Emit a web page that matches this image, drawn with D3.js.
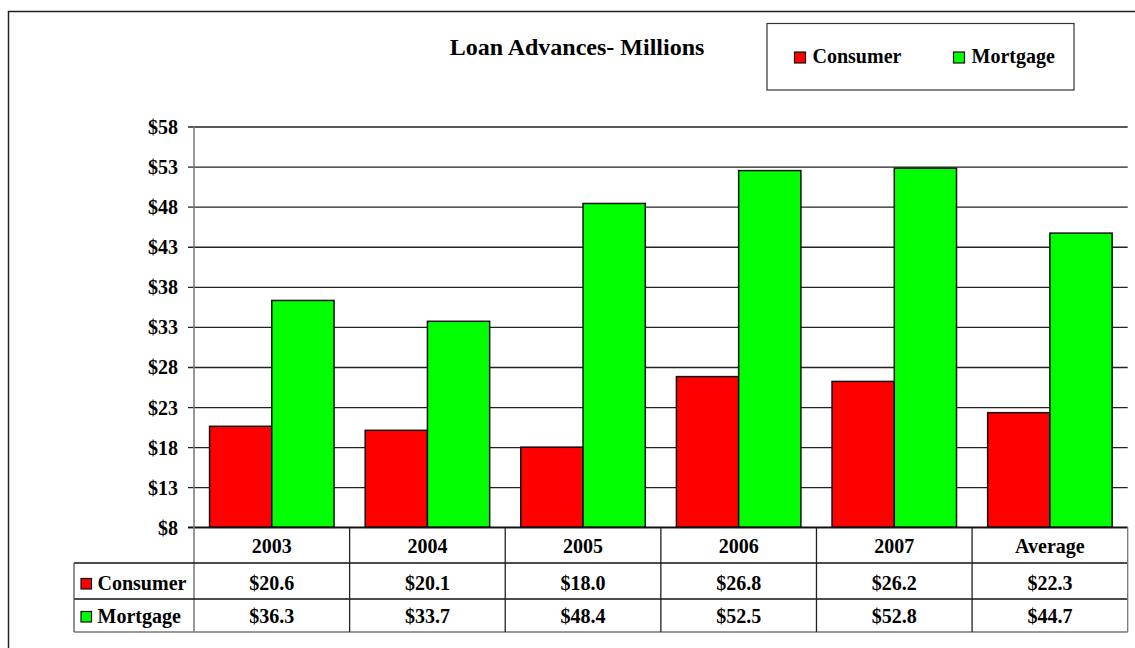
<!DOCTYPE html>
<html>
<head>
<meta charset="utf-8">
<script src="https://cdn.jsdelivr.net/npm/d3@7"></script>
<style>
  body { margin: 0; background: #fff; }
  text { font-family: "Liberation Serif", "Times New Roman", serif; font-weight: bold; fill: #000; }
</style>
</head>
<body>
<div id="chart"></div>
<script>
// Loan advances chart with data table underneath

const categories = ['2003', '2004', '2005', '2006', '2007', 'Average'];
const seriesNames = ['Consumer', 'Mortgage'];
const consumer = [20.6, 20.1, 18.0, 26.8, 26.2, 22.3];
const mortgage = [36.3, 33.7, 48.4, 52.5, 52.8, 44.7];
const yTicks = [8, 13, 18, 23, 28, 33, 38, 43, 48, 53, 58];

const W = 1135, H = 648;
const plot = { left: 194, right: 1127.7, top: 126.5, bottom: 527.3 };
const rowH = [35.7, 36, 33]; // header row, consumer row, mortgage row
const colors = { Consumer: '#ff0000', Mortgage: '#00ff00' };
const values = { Consumer: consumer, Mortgage: mortgage };

const svg = d3.select('#chart')
  .append('svg')
  .attr('width', W)
  .attr('height', H);

// outer frame (right and bottom edges fall outside the picture)
svg.append('rect')
  .attr('x', 8.5).attr('y', 11.5)
  .attr('width', W + 10).attr('height', H + 10)
  .attr('fill', 'none')
  .attr('stroke', '#222')
  .attr('stroke-width', 1.5);

// scales
const x = d3.scaleBand()
  .domain(categories)
  .range([plot.left, plot.right])
  .paddingInner(0.2)
  .paddingOuter(0.1);

const xInner = d3.scaleBand()
  .domain(seriesNames)
  .range([0, x.bandwidth()]);

const y = d3.scaleLinear()
  .domain([8, 58])
  .range([plot.bottom, plot.top]);

// gridlines + left ticks
const yAxis = d3.axisLeft(y)
  .tickValues(yTicks)
  .tickSize(-(plot.right - plot.left))
  .tickSizeOuter(0)
  .tickFormat(d => '$' + d);

const gy = svg.append('g')
  .attr('transform', `translate(${plot.left},0)`)
  .call(yAxis);
gy.select('.domain').remove();
gy.selectAll('.tick line')
  .attr('x1', -6)
  .attr('stroke', '#222')
  .attr('stroke-width', 1.3);
gy.selectAll('.tick text')
  .attr('x', -16)
  .attr('dy', '0.35em')
  .style('font-size', '20px')
  .style('font-family', '"Liberation Serif", serif')
  .style('font-weight', 'bold');

// bars
const groups = svg.append('g')
  .selectAll('g')
  .data(categories)
  .join('g')
  .attr('transform', d => `translate(${x(d)},0)`);

groups.selectAll('rect')
  .data((d, i) => seriesNames.map(s => ({ s, v: values[s][i] })))
  .join('rect')
  .attr('x', d => xInner(d.s))
  .attr('y', d => y(d.v))
  .attr('width', xInner.bandwidth())
  .attr('height', d => y(8) - y(d.v))
  .attr('fill', d => colors[d.s])
  .attr('stroke', '#111')
  .attr('stroke-width', 1.5);

// x axis line (top of the table)
svg.append('line')
  .attr('x1', plot.left - 6).attr('x2', plot.right)
  .attr('y1', plot.bottom).attr('y2', plot.bottom)
  .attr('stroke', '#111').attr('stroke-width', 1.5);

// left axis line, running down through the table
const tableBottom = plot.bottom + d3.sum(rowH);
svg.append('line')
  .attr('x1', plot.left).attr('x2', plot.left)
  .attr('y1', plot.top).attr('y2', tableBottom)
  .attr('stroke', '#777').attr('stroke-width', 1.5);

// data table
const rowTop = [plot.bottom, plot.bottom + rowH[0], plot.bottom + rowH[0] + rowH[1]];
const labelLeft = 74;
const table = svg.append('g');

// horizontal lines
table.append('line')
  .attr('x1', labelLeft).attr('x2', plot.right)
  .attr('y1', rowTop[1]).attr('y2', rowTop[1])
  .attr('stroke', '#111').attr('stroke-width', 1.3);
table.append('line')
  .attr('x1', labelLeft).attr('x2', plot.right)
  .attr('y1', rowTop[2]).attr('y2', rowTop[2])
  .attr('stroke', '#111').attr('stroke-width', 1.3);
table.append('line')
  .attr('x1', labelLeft).attr('x2', plot.right)
  .attr('y1', tableBottom).attr('y2', tableBottom)
  .attr('stroke', '#777').attr('stroke-width', 1.5);
// label column left edge
table.append('line')
  .attr('x1', labelLeft).attr('x2', labelLeft)
  .attr('y1', rowTop[1]).attr('y2', tableBottom)
  .attr('stroke', '#555').attr('stroke-width', 1.3);

// column separators
const step = x.step();
const colEdges = categories.map((c, i) => plot.left + step * (i + 1));
table.selectAll('.col-sep')
  .data(colEdges)
  .join('line')
  .attr('class', 'col-sep')
  .attr('x1', d => d).attr('x2', d => d)
  .attr('y1', plot.bottom).attr('y2', tableBottom)
  .attr('stroke', (d, i) => i === colEdges.length - 1 ? '#777' : '#222')
  .attr('stroke-width', 1.3);

const colCenter = c => x(c) + x.bandwidth() / 2;

// header row
table.selectAll('.hdr')
  .data(categories)
  .join('text')
  .attr('class', 'hdr')
  .attr('x', d => colCenter(d))
  .attr('y', rowTop[0] + 26)
  .attr('text-anchor', 'middle')
  .style('font-size', '20px')
  .text(d => d);

// value rows
seriesNames.forEach((s, r) => {
  const base = rowTop[r + 1] + (r === 0 ? 27 : 24);
  table.selectAll('.val-' + s)
    .data(values[s])
    .join('text')
    .attr('x', (d, i) => colCenter(categories[i]))
    .attr('y', base)
    .attr('text-anchor', 'middle')
    .style('font-size', '20px')
    .text(d => '$' + d.toFixed(1));

  table.append('rect')
    .attr('x', 81).attr('y', base - 11.5)
    .attr('width', 10.5).attr('height', 10.5)
    .attr('fill', colors[s])
    .attr('stroke', '#111').attr('stroke-width', 1.2);
  table.append('text')
    .attr('x', 97.5).attr('y', base)
    .style('font-size', '20px')
    .text(s);
});

// title
svg.append('text')
  .attr('x', 577)
  .attr('y', 55)
  .attr('text-anchor', 'middle')
  .style('font-size', '24px')
  .text('Loan Advances- Millions');

// legend
const legend = svg.append('g');
legend.append('rect')
  .attr('x', 767).attr('y', 23.5)
  .attr('width', 307).attr('height', 66.5)
  .attr('fill', '#fff')
  .attr('stroke', '#333').attr('stroke-width', 1.2);

const legendX = [794.5, 953.5];
const legendItems = legend.selectAll('.legend-item')
  .data(seriesNames)
  .join('g')
  .attr('class', 'legend-item')
  .attr('transform', (d, i) => `translate(${legendX[i]},63)`);
legendItems.append('rect')
  .attr('x', 0).attr('y', -11)
  .attr('width', 11).attr('height', 11)
  .attr('fill', d => colors[d])
  .attr('stroke', '#111').attr('stroke-width', 1.2);
legendItems.append('text')
  .attr('x', 18)
  .attr('y', 0)
  .style('font-size', '20px')
  .text(d => d);
</script>
</body>
</html>
